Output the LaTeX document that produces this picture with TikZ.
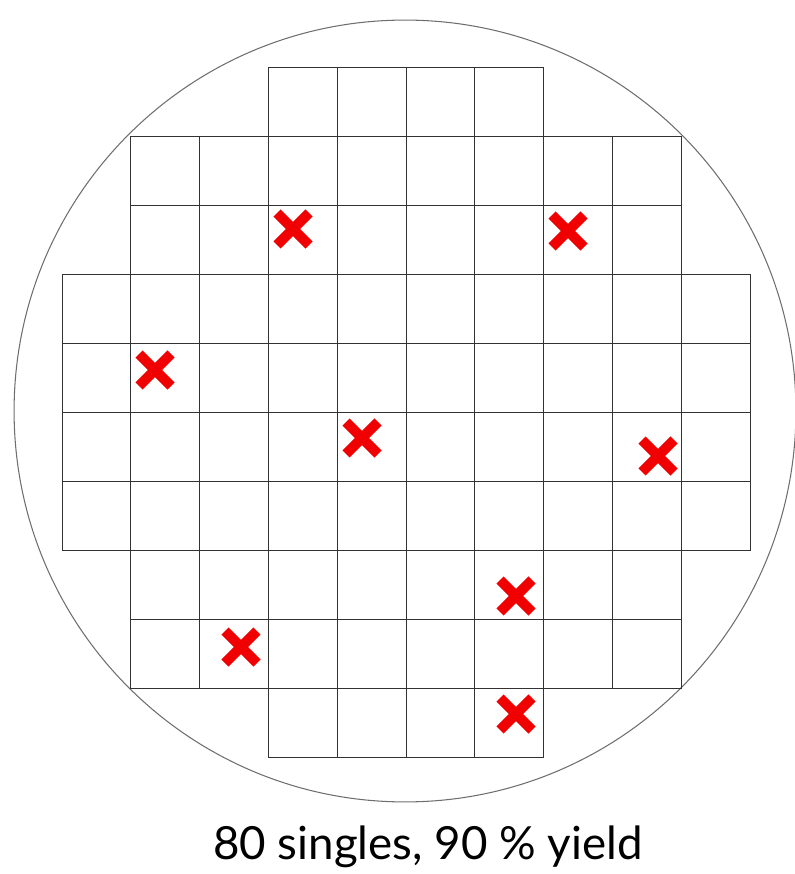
\documentclass[tikz,border=0pt]{standalone}
\usepackage{fontspec}
\setmainfont{Lato}
\usepackage{tikz}
\definecolor{gridgray}{RGB}{50,50,50}
\definecolor{wafergray}{RGB}{110,110,110}
\definecolor{failred}{RGB}{240,0,0}

\begin{document}
\begin{tikzpicture}[x=0.02cm, y=-0.02cm,
    wafer/.style={draw=wafergray, line width=0.6pt},
    die/.style={draw=gridgray, line width=0.45pt},
    fail/.style={draw=failred, line width=0.2cm, line cap=butt},
]
    \useasboundingbox (0,0) rectangle (794,874);
    \draw[wafer] (405,411) circle [radius=7.82cm];

    % rows of dies: row / first column / last column
    \foreach \r/\a/\b in {0/3/6, 1/1/8, 2/1/8, 3/0/9, 4/0/9, 5/0/9, 6/0/9, 7/1/8, 8/1/8, 9/3/6}
        \foreach \c in {\a,...,\b}
            \draw[die] ({62+68.8*\c},{67+69*\r}) rectangle ++(68.8,69);

    % failed dies
    \foreach \px/\py in {293/229, 568/231, 155/370, 362/438, 658/456, 516/596, 241/647, 516/714} {
        \draw[fail] (\px-16,\py-16) -- (\px+16,\py+16);
        \draw[fail] (\px-16,\py+16) -- (\px+16,\py-16);
    }

    \node[font=\fontsize{26}{30}\selectfont] (caption) at (428,847) {80 singles, 90 \% yield};
\end{tikzpicture}
\end{document}
